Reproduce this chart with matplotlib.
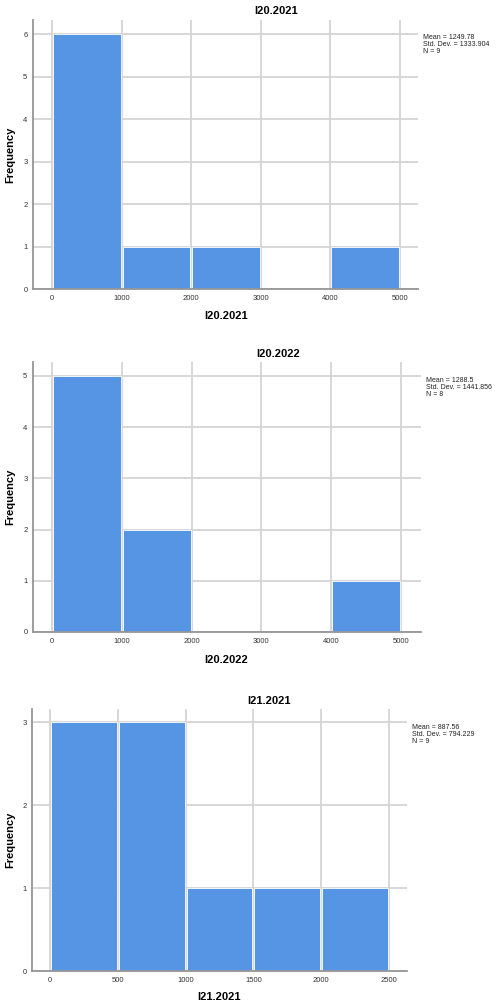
import matplotlib.pyplot as plt
import numpy as np

plt.rcParams['font.family'] = ['Liberation Sans', 'DejaVu Sans']

W, H = 498, 1007

# histogram data (bin edges + counts)
titles = ['I20.2021', 'I20.2022', 'I21.2021']
edges_1 = [0, 1000, 2000, 3000, 4000, 5000]
counts_1 = [6, 1, 1, 0, 1]
edges_2 = [0, 1000, 2000, 3000, 4000, 5000]
counts_2 = [5, 2, 0, 0, 1]
edges_3 = [0, 500, 1000, 1500, 2000, 2500]
counts_3 = [3, 3, 1, 1, 1]
stats = ['Mean = 1249.78\nStd. Dev. = 1333.904\nN = 9',
         'Mean = 1288.5\nStd. Dev. = 1441.856\nN = 8',
         'Mean = 887.56\nStd. Dev. = 794.229\nN = 9']
xticks_1 = [0, 1000, 2000, 3000, 4000, 5000]
xticks_3 = [0, 500, 1000, 1500, 2000, 2500]

BAR = '#5595E3'
GRID = '#D4D4D4'
SPINE = '#959595'

fig = plt.figure(figsize=(W / 100, H / 100), dpi=100)

# pixel boxes: left, right, top, bottom ; xlim ; ylim ; title pos ; xlabel y ; stats pos
panels = [
    dict(box=(33, 418, 20, 289), xlim=(-273, 5259), ylim=(0, 6.33), edges=edges_1, counts=counts_1,
         xt=xticks_1, yt=range(0, 7), title=(276, 11), xl=(226, 316), st=(423, 34)),
    dict(box=(33, 421, 362, 632), xlim=(-273, 5287), ylim=(0, 5.27), edges=edges_2, counts=counts_2,
         xt=xticks_1, yt=range(0, 6), title=(278, 354), xl=(226, 660), st=(426, 377)),
    dict(box=(32, 407, 709, 971), xlim=(-133, 2633), ylim=(0, 3.16), edges=edges_3, counts=counts_3,
         xt=xticks_3, yt=range(0, 4), title=(269, 701), xl=(219, 997), st=(412, 724)),
]

for i, p in enumerate(panels):
    l, r, t, b = p['box']
    ax = fig.add_axes([l / W, 1 - b / H, (r - l) / W, (b - t) / H])
    e = np.array(p['edges'])
    w = np.diff(e)
    ax.bar(e[:-1] + w * 0.015, p['counts'], width=w * 0.97, align='edge',
           color=BAR, edgecolor='white', linewidth=0.6, zorder=2)
    ax.set_xlim(*p['xlim'])
    ax.set_ylim(*p['ylim'])
    ax.set_xticks(p['xt'])
    ax.set_yticks(list(p['yt']))
    ax.grid(True, color=GRID, linewidth=1.3, zorder=0)
    ax.set_axisbelow(True)
    for s in ['top', 'right']:
        ax.spines[s].set_visible(False)
    for s in ['left', 'bottom']:
        ax.spines[s].set_color(SPINE)
        ax.spines[s].set_linewidth(1.3)
        ax.spines[s].set_zorder(3)
    ax.tick_params(length=0, labelsize=5.5, labelcolor='#333333', pad=4)

    fig.text(p['title'][0] / W, 1 - p['title'][1] / H, titles[i], ha='center', va='center',
             fontsize=8, fontweight='bold')
    fig.text(p['xl'][0] / W, 1 - p['xl'][1] / H, titles[i], ha='center', va='center',
             fontsize=8, fontweight='bold')
    fig.text(10 / W, 1 - ((t + b) / 2) / H, 'Frequency', rotation=90, ha='center', va='center',
             fontsize=8, fontweight='bold')
    fig.text(p['st'][0] / W, 1 - p['st'][1] / H, stats[i], ha='left', va='top',
             fontsize=5, linespacing=1.0, color='#222222')

fig.savefig('out.png', dpi=100)
